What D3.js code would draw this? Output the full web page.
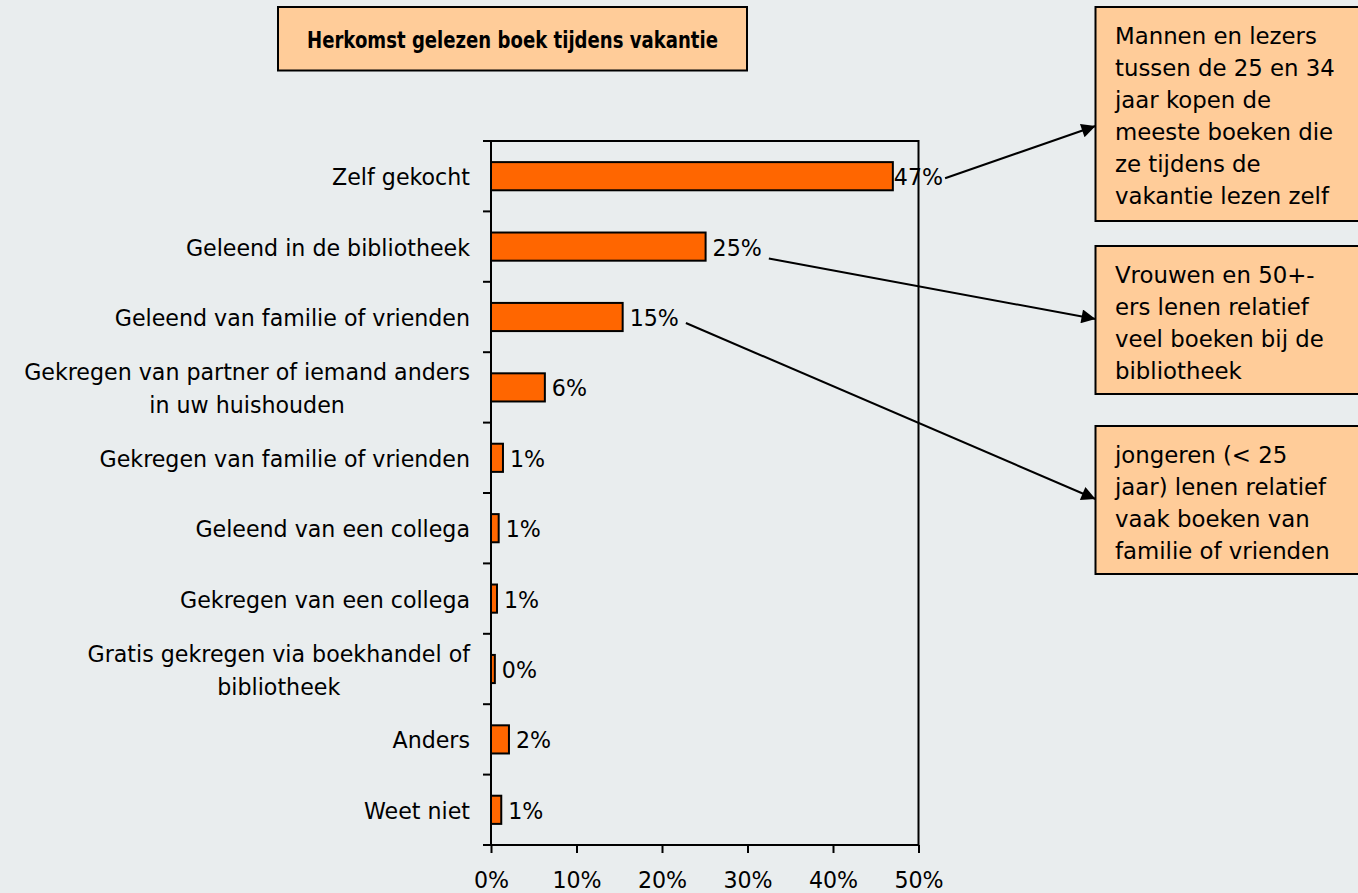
<!DOCTYPE html>
<html>
<head>
<meta charset="utf-8">
<script src="https://cdn.jsdelivr.net/npm/d3@7"></script>
<style>
  html, body { margin: 0; padding: 0; background: #E9EDEE; }
  svg { display: block; }
  text { font-family: "DejaVu Sans", sans-serif; }
</style>
</head>
<body>
<svg id="chart" width="1358" height="893"></svg>
<script>
// ---------------- data ----------------
const title = "Herkomst gelezen boek tijdens vakantie";
const categories = [
  "Zelf gekocht",
  "Geleend in de bibliotheek",
  "Geleend van familie of vrienden",
  "Gekregen van partner of iemand anders\nin uw huishouden",
  "Gekregen van familie of vrienden",
  "Geleend van een collega",
  "Gekregen van een collega",
  "Gratis gekregen via boekhandel of\nbibliotheek",
  "Anders",
  "Weet niet"
];
const values = [0.470, 0.251, 0.154, 0.063, 0.014, 0.009, 0.007, 0.0045, 0.021, 0.012];
const xTicks = [0, 0.1, 0.2, 0.3, 0.4, 0.5];
const annotationTexts = [
  ["Mannen en lezers", "tussen de 25 en 34", "jaar kopen de", "meeste boeken die", "ze tijdens de", "vakantie lezen zelf"],
  ["Vrouwen en 50+-", "ers lenen relatief", "veel boeken bij de", "bibliotheek"],
  ["jongeren (< 25", "jaar) lenen relatief", "vaak boeken van", "familie of vrienden"]
];
const annotationTargets = [0, 1, 2]; // category index each note points from

// ---------------- layout ----------------
const svg = d3.select("#chart");
const plot = { left: 491, right: 918.5, top: 141, bottom: 845 };
const barFill = "#FF6600", boxFill = "#FFCC99", ink = "#000";

// font size calibration
function fitSize(str, targetWidth, weight) {
  const t = svg.append("text").attr("font-size", 100).attr("font-weight", weight || "normal").text(str);
  const w = t.node().getComputedTextLength();
  t.remove();
  return 100 * targetWidth / w;
}
const fs = fitSize("Zelf gekocht", 138);
const noteFs = fitSize("vakantie lezen zelf", 214);

const x = d3.scaleLinear().domain([0, 0.5]).range([plot.left, plot.right]);
const y = d3.scaleBand().domain(categories).range([plot.top, plot.bottom]).paddingInner(0.6).paddingOuter(0.3);
const step = y.step();
const fmt = d3.format(".0%");

// title
const tb = { x: 278, y: 7, w: 469, h: 63.5 };
svg.append("rect").attr("x", tb.x).attr("y", tb.y).attr("width", tb.w).attr("height", tb.h)
  .attr("fill", boxFill).attr("stroke", ink).attr("stroke-width", 2);
svg.append("text").attr("x", tb.x + tb.w / 2).attr("y", tb.y + tb.h / 2 + 1)
  .attr("text-anchor", "middle").attr("dominant-baseline", "central")
  .attr("font-weight", "bold").attr("font-size", 23.5)
  .attr("textLength", 411).attr("lengthAdjust", "spacingAndGlyphs")
  .text(title);

// bars
const g = svg.append("g");
g.selectAll("rect.bar").data(values).join("rect").attr("class", "bar")
  .attr("x", x(0)).attr("y", (d, i) => y(categories[i]))
  .attr("width", d => x(d) - x(0)).attr("height", y.bandwidth())
  .attr("fill", barFill).attr("stroke", ink).attr("stroke-width", 2);

// value labels
const valLabels = g.selectAll("text.val").data(values).join("text").attr("class", "val")
  .attr("x", (d, i) => x(d) + (i === 0 ? 1 : 7))
  .attr("y", (d, i) => y(categories[i]) + y.bandwidth() / 2 + 1)
  .attr("dominant-baseline", "central").attr("font-size", fs).attr("fill", ink)
  .text(d => fmt(d));

// frame + axes
svg.append("rect").attr("x", plot.left).attr("y", plot.top)
  .attr("width", plot.right - plot.left).attr("height", plot.bottom - plot.top)
  .attr("fill", "none").attr("stroke", ink).attr("stroke-width", 2);

// y ticks at band boundaries
const yBounds = d3.range(categories.length + 1).map(i => plot.top + i * step);
svg.selectAll("line.ytick").data(yBounds).join("line").attr("class", "ytick")
  .attr("x1", plot.left - 8).attr("x2", plot.left).attr("y1", d => d).attr("y2", d => d)
  .attr("stroke", ink).attr("stroke-width", 2);

// category labels
const catG = svg.selectAll("text.cat").data(categories).join("text").attr("class", "cat")
  .attr("font-size", fs).attr("fill", ink);
catG.each(function (d) {
  const lines = d.split("\n");
  const t = d3.select(this);
  const lh = 33;
  const cy = y(d) + y.bandwidth() / 2 + 1;
  const widths = lines.map(l => {
    const s = svg.append("text").attr("font-size", fs).text(l);
    const w = s.node().getComputedTextLength(); s.remove(); return w;
  });
  const maxW = d3.max(widths);
  const rightX = plot.left - 21;
  lines.forEach((l, k) => {
    t.append("tspan")
      .attr("x", lines.length > 1 ? rightX - maxW / 2 : rightX)
      .attr("text-anchor", lines.length > 1 ? "middle" : "end")
      .attr("y", cy + (k - (lines.length - 1) / 2) * lh)
      .attr("dominant-baseline", "central")
      .text(l);
  });
});

// x axis ticks
const xAxis = d3.axisBottom(x).tickValues(xTicks).tickFormat(fmt).tickSize(8).tickPadding(14);
const xg = svg.append("g").attr("transform", `translate(0,${plot.bottom})`).call(xAxis);
xg.select(".domain").remove();
xg.selectAll(".tick line").attr("stroke", ink).attr("stroke-width", 2);
xg.selectAll(".tick text").attr("font-size", fs).attr("fill", ink)
  .attr("font-family", null).attr("dy", null).attr("y", 43).attr("dominant-baseline", "alphabetic");

// annotation boxes
const boxes = [
  { y: 7, h: 214, tipY: 126 },
  { y: 246, h: 148, tipY: 319 },
  { y: 426, h: 148, tipY: 499 }
];
const boxX = 1095.5, boxW = 300;
const defs = svg.append("defs");
defs.append("marker").attr("id", "arrow").attr("viewBox", "0 0 10 10").attr("refX", 10).attr("refY", 5)
  .attr("markerWidth", 9).attr("markerHeight", 7).attr("markerUnits", "strokeWidth").attr("orient", "auto")
  .append("path").attr("d", "M0,0 L10,5 L0,10 z").attr("fill", ink);

annotationTexts.forEach((lines, k) => {
  const b = boxes[k];
  svg.append("rect").attr("x", boxX).attr("y", b.y).attr("width", boxW).attr("height", b.h)
    .attr("fill", boxFill).attr("stroke", ink).attr("stroke-width", 2);
  const t = svg.append("text").attr("font-size", noteFs).attr("fill", ink);
  lines.forEach((l, j) => {
    t.append("tspan").attr("x", boxX + 19.5).attr("y", b.y + 29 + j * 32)
      .attr("dominant-baseline", "central").text(l);
  });
  // arrow from value label
  const idx = annotationTargets[k];
  const lab = valLabels.nodes()[idx];
  const bb = lab.getBBox();
  const sx = bb.x + bb.width + (k === 0 ? 2 : 7);
  const sy = y(categories[idx]) + y.bandwidth() / 2 + [2, 12, 6][k];
  svg.append("line").attr("x1", sx).attr("y1", sy).attr("x2", boxX).attr("y2", b.tipY)
    .attr("stroke", ink).attr("stroke-width", 2).attr("marker-end", "url(#arrow)");
});
</script>
</body>
</html>
